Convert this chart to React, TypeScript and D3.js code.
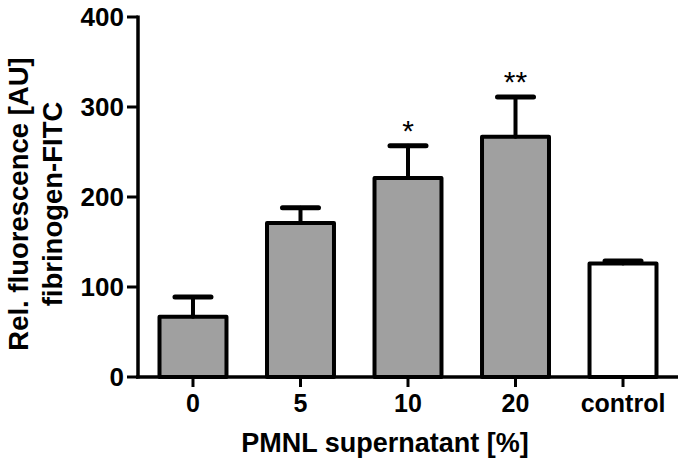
import React from "react";
import { scaleBand, scaleLinear } from "d3";

// values
const groups = ["0", "5", "10", "20", "control"];
const means = [67, 171, 221, 267, 126];
const sds = [22, 17, 36, 44, 3];
const fills = ["#a0a0a0", "#a0a0a0", "#a0a0a0", "#a0a0a0", "#ffffff"];
const stars = ["", "", "*", "**", ""];
const yTicks = [0, 100, 200, 300, 400];

const W = 685;
const H = 468;
const font = "'Liberation Sans', Arial, Helvetica, sans-serif";

function App() {
  const x = scaleBand()
    .domain(groups)
    .range([138, 678])
    .paddingInner(0.377)
    .paddingOuter(0.2);

  const y = scaleLinear().domain([0, 400]).range([377, 17]);

  const bw = x.bandwidth();

  return (
    <svg
      width={W}
      height={H}
      style={{ position: "absolute", left: 0, top: 0, background: "#fff" }}
      fontFamily={font}
    >
      {/* bars */}
      {groups.map((g, i) => (
        <rect
          key={"bar" + g}
          x={x(g)}
          y={y(means[i])}
          width={bw}
          height={y(0) - y(means[i])}
          fill={fills[i]}
          stroke="#000"
          strokeWidth={4}
          strokeLinejoin="round"
        />
      ))}

      {/* error bars, upper half only */}
      {groups.map((g, i) => {
        const cx = x(g) + bw / 2;
        const top = y(means[i] + sds[i]);
        return (
          <g key={"err" + g} stroke="#000" strokeLinecap="round">
            <line x1={cx} x2={cx} y1={y(means[i])} y2={top} strokeWidth={4} />
            <line x1={cx - 18} x2={cx + 18} y1={top} y2={top} strokeWidth={5} />
          </g>
        );
      })}

      {/* significance marks */}
      {groups.map((g, i) =>
        stars[i] ? (
          <text
            key={"star" + g}
            x={x(g) + bw / 2}
            y={y(means[i] + sds[i]) - 5}
            textAnchor="middle"
            fontSize={30}
            fill="#000"
          >
            {stars[i]}
          </text>
        ) : null
      )}

      {/* y axis */}
      <line x1={138} x2={138} y1={y(400) - 1.5} y2={y(0) + 1.5} stroke="#000" strokeWidth={3.5} />
      {yTicks.map((t) => (
        <g key={"yt" + t}>
          <line x1={127} x2={138} y1={y(t)} y2={y(t)} stroke="#000" strokeWidth={3} />
          <text
            x={124}
            y={y(t)}
            dy="0.36em"
            textAnchor="end"
            fontSize={26}
            fontWeight="bold"
            fill="#000"
          >
            {t}
          </text>
        </g>
      ))}

      {/* x axis */}
      <line x1={136} x2={678} y1={y(0)} y2={y(0)} stroke="#000" strokeWidth={3.5} />
      {groups.map((g) => (
        <g key={"xt" + g}>
          <line
            x1={x(g) + bw / 2}
            x2={x(g) + bw / 2}
            y1={y(0)}
            y2={y(0) + 10}
            stroke="#000"
            strokeWidth={3}
          />
          <text
            x={x(g) + bw / 2}
            y={412}
            textAnchor="middle"
            fontSize={25}
            fontWeight="bold"
            fill="#000"
          >
            {g}
          </text>
        </g>
      ))}

      {/* axis titles */}
      <text x={385} y={452} textAnchor="middle" fontSize={27} fontWeight="bold" fill="#000">
        PMNL supernatant [%]
      </text>
      <text
        transform="translate(28,204) rotate(-90)"
        textAnchor="middle"
        fontSize={27.5}
        fontWeight="bold"
        fill="#000"
      >
        Rel. fluorescence [AU]
      </text>
      <text
        transform="translate(62,204) rotate(-90)"
        textAnchor="middle"
        fontSize={27.5}
        fontWeight="bold"
        fill="#000"
      >
        fibrinogen-FITC
      </text>
    </svg>
  );
}

export default App;
